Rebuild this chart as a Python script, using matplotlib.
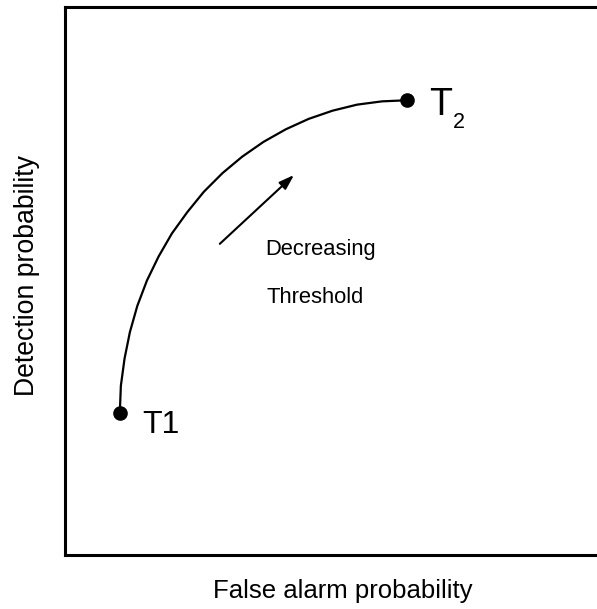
import matplotlib
matplotlib.use("Agg")
import matplotlib.pyplot as plt

plt.rcParams['font.family'] = ['Liberation Sans', 'DejaVu Sans']

# ROC-like curve points (normalized false alarm prob, detection prob)
curve_x = [0.103, 0.105, 0.112, 0.122, 0.136, 0.154, 0.176, 0.201, 0.230, 0.261,
           0.296, 0.333, 0.373, 0.415, 0.458, 0.503, 0.549, 0.596, 0.643]
curve_y = [0.257, 0.307, 0.357, 0.405, 0.453, 0.499, 0.543, 0.585, 0.624, 0.661,
           0.695, 0.725, 0.752, 0.775, 0.794, 0.809, 0.820, 0.826, 0.828]

# endpoints
end_x = [0.103, 0.643]
end_y = [0.257, 0.828]

arrow_tail = (0.291, 0.566)
arrow_head = (0.4305, 0.6916)

W, H = 597, 609
fig = plt.figure(figsize=(W / 100, H / 100), dpi=100)
left_px, right_px, top_px, bot_px = 64.5, 599, 6.5, 555
ax = fig.add_axes([left_px / W, (H - bot_px) / H, (right_px - left_px) / W, (bot_px - top_px) / H])

ax.plot(curve_x, curve_y, color='black', lw=1.6, solid_capstyle='round',
        solid_joinstyle='round')
ax.plot(end_x, end_y, 'o', color='black', ms=9.5)

ax.annotate('', xy=arrow_head, xytext=arrow_tail,
            arrowprops=dict(arrowstyle='-|>,head_length=0.9,head_width=0.3',
                            color='black', lw=1.5, shrinkA=0, shrinkB=0))

ax.text(0.377, 0.5456, 'Decreasing', fontsize=15.8, ha='left', va='baseline')
ax.text(0.379, 0.458, 'Threshold', fontsize=15.8, ha='left', va='baseline')
ax.text(0.1447, 0.2208, 'T1', fontsize=23, ha='left', va='baseline')
ax.text(0.685, 0.801, 'T', fontsize=27, ha='left', va='baseline')
ax.text(0.729, 0.777, '2', fontsize=15.5, ha='left', va='baseline')

ax.set_xlim((left_px - 65) / 532, (right_px - 65) / 532)
ax.set_ylim((554 - bot_px) / 548, (554 - top_px) / 548)
ax.set_xticks([])
ax.set_yticks([])
for s in ax.spines.values():
    s.set_linewidth(2.2)
    s.set_color('black')

fig.text(343 / W, 1 - 598 / H, 'False alarm probability', fontsize=18.5,
         ha='center', va='baseline')
fig.text(27 / W, 1 - 276 / H, 'Detection probability', fontsize=19.2,
         ha='center', va='center', rotation=90)

fig.savefig('out.png', dpi=100)
